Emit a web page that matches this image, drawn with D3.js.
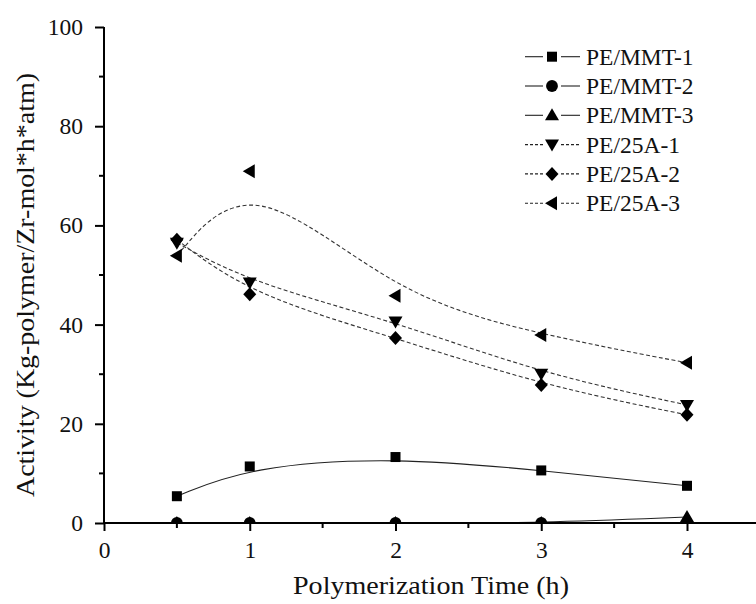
<!DOCTYPE html>
<html>
<head>
<meta charset="utf-8">
<script src="https://cdn.jsdelivr.net/npm/d3@7"></script>
</head>
<body style="margin:0">
<svg id="chart" width="756" height="604"></svg>
<script>
// ---- data ----
const times = [0.5, 1, 2, 3, 4];
const seriesNames = ["PE/MMT-1", "PE/MMT-2", "PE/MMT-3", "PE/25A-1", "PE/25A-2", "PE/25A-3"];
const mmt1 = [5.4, 11.4, 13.3, 10.6, 7.5];
const mmt2 = [0, 0, 0, 0, 0];
const mmt3 = [0, 0, 0, 0, 1.2];
const a25_1 = [56.5, 48.5, 40.6, 30.1, 23.8];
const a25_2 = [57.1, 46.1, 37.3, 27.8, 21.8];
const a25_3 = [53.9, 70.9, 45.8, 37.9, 32.3];
const xTicks = [0, 1, 2, 3, 4];
const yTicks = [0, 20, 40, 60, 80, 100];
const xLabel = "Polymerization Time (h)";
const yLabel = "Activity (Kg-polymer/Zr-mol*h*atm)";

const seriesValues = [mmt1, mmt2, mmt3, a25_1, a25_2, a25_3];
const symbols = ["square", "circle", "triUp", "triDown", "diamond", "triLeft"];
const dashed = [false, false, false, true, true, true];

const FONT = "'Liberation Serif', 'Tinos', 'FreeSerif', monospace";

// ---- layout ----
const svg = d3.select("#chart");
const mLeft = 104, mTop = 27, mBottom = 523;
const x = d3.scaleLinear().domain([0, 4.5]).range([mLeft, mLeft + 4.5 * 145.75]);
const y = d3.scaleLinear().domain([0, 100]).range([mBottom, mTop]);

svg.append("defs").append("clipPath").attr("id", "clip")
  .append("rect").attr("x", mLeft).attr("y", 0).attr("width", 756 - mLeft).attr("height", mBottom);

function markerPath(type) {
  switch (type) {
    case "square": return `M${-5},${-5}h10v10h-10z`;
    case "circle": return d3.symbol(d3.symbolCircle, 110)();
    case "triUp": return `M0,${-7}L${7},${5}L${-7},${5}Z`;
    case "triDown": return `M0,${7}L${7},${-5}L${-7},${-5}Z`;
    case "diamond": return `M0,${-7}L${6.5},0L0,${7}L${-6.5},0Z`;
    case "triLeft": return `M${-7},0L${5},${-7}L${5},${7}Z`;
  }
}

const plot = svg.append("g").attr("clip-path", "url(#clip)");
const line = d3.line().x(d => x(d[0])).y(d => y(d[1])).curve(d3.curveBasis);

seriesValues.forEach((vals, i) => {
  const pts = times.map((t, j) => [t, vals[j]]);
  plot.append("path")
    .attr("d", line(pts))
    .attr("fill", "none")
    .attr("stroke", dashed[i] ? "#333" : "#222")
    .attr("stroke-width", 1.1)
    .attr("stroke-dasharray", dashed[i] ? "4,2.5" : null);
});
seriesValues.forEach((vals, i) => {
  plot.selectAll(null).data(times.map((t, j) => [t, vals[j]])).enter()
    .append("path")
    .attr("d", markerPath(symbols[i]))
    .attr("transform", d => `translate(${x(d[0])},${y(d[1])})`)
    .attr("fill", "#000");
});

// ---- axes ----
const xAxis = d3.axisBottom(x).tickValues(xTicks).tickFormat(d3.format("d")).tickSize(8).tickPadding(10);
const yAxis = d3.axisLeft(y).tickValues(yTicks).tickFormat(d3.format("d")).tickSize(9).tickPadding(12);

const gx = svg.append("g").attr("transform", `translate(0,${mBottom})`).call(xAxis);
const gy = svg.append("g").attr("transform", `translate(${mLeft},0)`).call(yAxis);

// minor ticks
const xMinor = d3.range(0.5, 4.6, 1);
gx.selectAll(".minor").data(xMinor).enter().append("line")
  .attr("x1", d => x(d)).attr("x2", d => x(d)).attr("y1", 0).attr("y2", 5)
  .attr("stroke", "#000").attr("stroke-width", 2);
const yMinor = d3.range(10, 100, 20);
gy.selectAll(".minor").data(yMinor).enter().append("line")
  .attr("x1", -5).attr("x2", 0).attr("y1", d => y(d)).attr("y2", d => y(d))
  .attr("stroke", "#000").attr("stroke-width", 2);

[gx, gy].forEach(g => {
  g.attr("font-family", FONT).attr("font-size", 23.5);
  g.select(".domain").attr("stroke", "#000").attr("stroke-width", 2);
  g.selectAll(".tick line").attr("stroke", "#000").attr("stroke-width", 2);
  g.selectAll(".tick text").attr("fill", "#111")
    .attr("font-family", FONT).style("font-family", FONT).attr("font-size", 23.5);
});
gx.select(".domain").attr("d", `M${mLeft},0H756`);
gy.select(".domain").attr("d", `M0,${mBottom}V${mTop}`);

// axis titles
svg.append("text").attr("x", 431).attr("y", 594).attr("text-anchor", "middle")
  .attr("font-family", FONT).style("font-family", FONT).attr("font-size", 26).attr("fill", "#111")
  .attr("textLength", 276).attr("lengthAdjust", "spacingAndGlyphs").text(xLabel);
svg.append("text").attr("transform", "translate(34,285) rotate(-90)").attr("text-anchor", "middle")
  .attr("font-family", FONT).style("font-family", FONT).attr("font-size", 26).attr("fill", "#111")
  .attr("textLength", 424).attr("lengthAdjust", "spacingAndGlyphs").text(yLabel);

// ---- legend ----
const legY0 = 56.7, legDy = 29.3;
const leg = svg.append("g");
seriesNames.forEach((name, i) => {
  const cy = legY0 + i * legDy;
  const g = leg.append("g").attr("transform", `translate(0,${cy})`);
  [[525, 543], [561, 580]].forEach(([a, b]) => {
    g.append("line").attr("x1", a).attr("x2", b).attr("y1", 0).attr("y2", 0)
      .attr("stroke", "#222").attr("stroke-width", 1.1)
      .attr("stroke-dasharray", dashed[i] ? "3,2" : null);
  });
  g.append("path").attr("d", markerPath(symbols[i])).attr("transform", "translate(552,0)").attr("fill", "#000");
  g.append("text").attr("x", 586).attr("y", 8)
    .attr("font-family", FONT).style("font-family", FONT).attr("font-size", 23.5).attr("fill", "#111").text(name);
});
</script>
</body>
</html>
